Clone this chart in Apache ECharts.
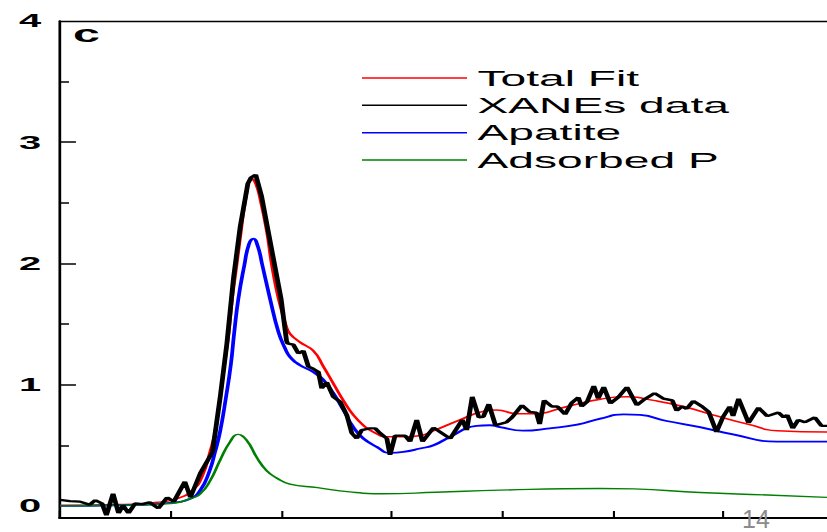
<!DOCTYPE html>
<html><head><meta charset="utf-8">
<script src="https://cdn.jsdelivr.net/npm/echarts@6/dist/echarts.min.js"></script>
<style>
html,body{margin:0;padding:0;background:#fff;overflow:hidden;}
#wrap{position:absolute;left:0;top:0;width:827px;height:532px;overflow:hidden;background:#fff;}
#chart{position:absolute;left:0;top:0;width:394px;height:532px;transform-origin:0 0;}
</style></head><body><div id="wrap"><div id="chart"></div></div>
<script>
// The original figure is a plot stretched horizontally on a slide; we draw it narrow and stretch it the same way.
const STRETCH = 827 / 394;

const seriesNames = ['Total Fit', 'XANEs data', 'Apatite', 'Adsorbed P'];
const yLabelValues = [0, 1, 2, 3, 4];
const yMajorTicks = [1, 2, 3];
const yMinorTicks = [0.5, 1.5, 2.5, 3.5];
const panelLetter = 'c';
const slideNumber = '14';

// [energy (eV), normalized absorbance]
const totalFit = [[2140.0,0.005],[2145.0,0.01],[2148.8,0.03],[2150.6,0.06],[2152.0,0.13],[2152.9,0.25],[2153.57,0.445],[2154.03,0.61],[2154.48,0.886],[2154.87,1.16],[2155.29,1.435],[2155.59,1.71],[2155.99,1.985],[2156.38,2.26],[2156.81,2.535],[2157.35,2.70],[2157.7,2.66],[2158.1,2.535],[2158.71,2.26],[2159.16,1.985],[2159.76,1.71],[2160.45,1.49],[2160.81,1.42],[2161.72,1.35],[2162.92,1.28],[2163.83,1.15],[2164.73,1.01],[2165.64,0.87],[2166.54,0.75],[2167.45,0.665],[2168.35,0.61],[2169.57,0.57],[2170.77,0.57],[2172.58,0.58],[2173.8,0.62],[2176.2,0.71],[2178.3,0.78],[2179.5,0.79],[2181.4,0.76],[2182.8,0.76],[2185.9,0.82],[2188.9,0.88],[2191.3,0.90],[2193.7,0.87],[2196.4,0.82],[2199.5,0.74],[2202.4,0.67],[2204.9,0.62],[2209.4,0.61]];

const xanesData = [[2140.0,0.05],[2140.9,0.04],[2141.8,0.035],[2142.7,0.01],[2143.2,0.047],[2143.8,0.02],[2144.2,-0.077],[2144.8,0.10],[2145.3,-0.06],[2145.7,0.005],[2146.2,-0.06],[2146.8,0.02],[2147.5,0.015],[2148.1,0.03],[2148.9,-0.02],[2149.7,0.07],[2150.3,0.035],[2151.3,0.20],[2151.8,0.07],[2152.7,0.27],[2153.8,0.445],[2154.5,0.90],[2155.1,1.34],[2155.7,1.88],[2156.3,2.30],[2157.0,2.66],[2157.3,2.71],[2157.71,2.733],[2158.25,2.55],[2158.85,2.26],[2160.0,1.71],[2160.5,1.36],[2160.6,1.34],[2161.11,1.33],[2161.57,1.257],[2162.02,1.28],[2162.47,1.15],[2162.92,1.13],[2163.38,1.105],[2163.68,0.97],[2164.14,1.02],[2164.73,0.90],[2165.34,0.86],[2165.95,0.75],[2166.4,0.60],[2166.85,0.556],[2167.3,0.625],[2168.05,0.64],[2168.51,0.64],[2168.96,0.60],[2169.57,0.556],[2169.86,0.42],[2170.32,0.58],[2171.22,0.58],[2171.67,0.53],[2172.28,0.71],[2172.8,0.53],[2173.8,0.645],[2175.3,0.555],[2176.4,0.71],[2176.8,0.625],[2177.3,0.90],[2177.9,0.73],[2178.3,0.735],[2178.8,0.84],[2179.4,0.665],[2180.4,0.69],[2180.9,0.73],[2181.8,0.83],[2182.5,0.775],[2183.1,0.77],[2183.4,0.675],[2183.8,0.87],[2184.5,0.82],[2185.0,0.82],[2185.7,0.755],[2186.3,0.85],[2186.9,0.895],[2187.2,0.82],[2187.7,0.86],[2188.3,0.99],[2188.7,0.885],[2189.2,0.98],[2189.8,0.845],[2190.5,0.895],[2191.3,0.98],[2192.2,0.83],[2192.9,0.88],[2193.8,0.93],[2194.6,0.885],[2195.4,0.87],[2195.8,0.785],[2196.3,0.82],[2196.7,0.80],[2197.3,0.865],[2198.1,0.82],[2198.7,0.775],[2199.4,0.61],[2200.0,0.735],[2200.6,0.82],[2200.9,0.74],[2201.4,0.885],[2202.3,0.685],[2203.2,0.81],[2204.0,0.74],[2205.0,0.77],[2205.5,0.73],[2205.8,0.75],[2206.3,0.64],[2206.8,0.71],[2207.4,0.69],[2208.3,0.73],[2208.9,0.66],[2209.4,0.66]];

const apatite = [[2140.0,0.0],[2145.0,0.005],[2150.0,0.025],[2151.8,0.06],[2152.7,0.13],[2153.5,0.28],[2154.03,0.445],[2154.48,0.61],[2155.0,0.886],[2155.45,1.16],[2155.77,1.435],[2156.14,1.71],[2156.68,1.985],[2157.1,2.16],[2157.49,2.205],[2157.9,2.14],[2158.31,1.985],[2159.0,1.71],[2159.76,1.435],[2160.36,1.30],[2160.81,1.23],[2161.72,1.16],[2162.92,1.105],[2163.83,1.04],[2164.73,0.93],[2165.64,0.79],[2166.54,0.65],[2167.45,0.556],[2168.66,0.487],[2169.86,0.437],[2171.07,0.445],[2172.58,0.473],[2173.8,0.50],[2175.3,0.57],[2177.7,0.66],[2178.9,0.665],[2179.8,0.65],[2181.9,0.62],[2184.3,0.64],[2186.8,0.67],[2188.9,0.72],[2191.0,0.755],[2192.5,0.75],[2194.9,0.70],[2197.9,0.65],[2200.9,0.59],[2204.9,0.53],[2209.4,0.53]];

const adsorbedP = [[2140.0,0.0],[2145.0,0.005],[2150.0,0.02],[2151.8,0.06],[2152.7,0.10],[2153.6,0.21],[2154.5,0.38],[2155.4,0.53],[2156.1,0.59],[2156.9,0.54],[2157.8,0.40],[2158.7,0.29],[2159.6,0.23],[2160.8,0.18],[2163.3,0.15],[2166.2,0.115],[2169.2,0.10],[2174.0,0.112],[2179.8,0.13],[2188.9,0.143],[2191.9,0.14],[2197.9,0.11],[2204.0,0.09],[2209.4,0.07]];

const seriesColors = ['#ff0000', '#000000', '#0000ff', '#008000'];
const seriesWidths = [1.5, 2.3, 1.8, 1.4];
const seriesData = [totalFit, xanesData, apatite, adsorbedP];
const seriesSmooth = [0.5, false, 0.5, 0.5];

const X_MIN = 2140, X_MAX = 2209.4, X_STEP = 10;
const Y_MIN = -0.1, Y_MAX = 4;
const FONT = '"Liberation Sans", Arial, Helvetica, sans-serif';

const el = document.getElementById('chart');
el.style.transform = 'scaleX(' + STRETCH + ')';
const chart = echarts.init(el, null, { renderer: 'svg', width: 394, height: 532 });

const yBase = {
  type: 'value', min: Y_MIN, max: Y_MAX, position: 'left',
  splitLine: { show: false }
};

const option = {
  animation: false,
  backgroundColor: '#ffffff',
  grid: { left: 60 / STRETCH, right: 0, top: 21, bottom: 14, containLabel: false },
  legend: {
    orient: 'vertical', left: 362 / STRETCH, top: 64.4, padding: 0, itemGap: 0,
    itemWidth: 105 / STRETCH, itemHeight: 1.5, icon: 'rect', selectedMode: false,
    textStyle: { fontFamily: FONT, fontSize: 22, color: '#000', lineHeight: 27.3 },
    data: seriesNames
  },
  xAxis: [
    {
      type: 'value', min: X_MIN, max: X_MAX, interval: X_STEP, position: 'bottom',
      axisLine: { show: true, onZero: false, lineStyle: { color: '#000', width: 2 } },
      axisTick: { show: true, inside: true, length: 7, lineStyle: { color: '#000', width: 1 } },
      axisLabel: { show: false }, splitLine: { show: false }
    },
    {
      type: 'value', min: X_MIN, max: X_MAX, position: 'top',
      axisLine: { show: true, onZero: false, lineStyle: { color: '#000', width: 1.3 } },
      axisTick: { show: false }, axisLabel: { show: false }, splitLine: { show: false }
    }
  ],
  yAxis: [
    Object.assign({}, yBase, {
      axisLine: { show: true, onZero: false, lineStyle: { color: '#000', width: 1.3 } },
      axisTick: { show: true, inside: true, length: 7.6, customValues: yMajorTicks, lineStyle: { color: '#000', width: 1.5 } },
      axisLabel: { show: true, customValues: yLabelValues, margin: 9, fontFamily: FONT, fontWeight: 'bold', fontSize: 19, color: '#000' }
    }),
    Object.assign({}, yBase, {
      axisLine: { show: false },
      axisTick: { show: true, inside: true, length: 4.3, customValues: yMinorTicks, lineStyle: { color: '#000', width: 1.5 } },
      axisLabel: { show: false }
    })
  ],
  graphic: [
    {
      type: 'text', x: 73 / STRETCH, y: 34, z: 100,
      style: { text: panelLetter, font: 'bold 23px ' + FONT, fill: '#000', textAlign: 'left', textVerticalAlign: 'middle' }
    },
    {
      type: 'text', x: 742 / STRETCH, y: 531.5, scaleX: 1 / STRETCH, z: 100,
      style: { text: slideNumber, font: '25px ' + FONT, fill: '#8c8c8c', textAlign: 'left', textVerticalAlign: 'bottom' }
    }
  ],
  series: seriesNames.map((name, i) => ({
    name: name, type: 'line', xAxisIndex: 0, yAxisIndex: 0,
    data: seriesData[i], showSymbol: false, symbol: 'none',
    smooth: seriesSmooth[i],
    color: seriesColors[i],
    lineStyle: { color: seriesColors[i], width: seriesWidths[i] },
    itemStyle: { color: seriesColors[i] },
    z: i === 1 ? 4 : 3
  }))
};
chart.setOption(option);
</script></body></html>
